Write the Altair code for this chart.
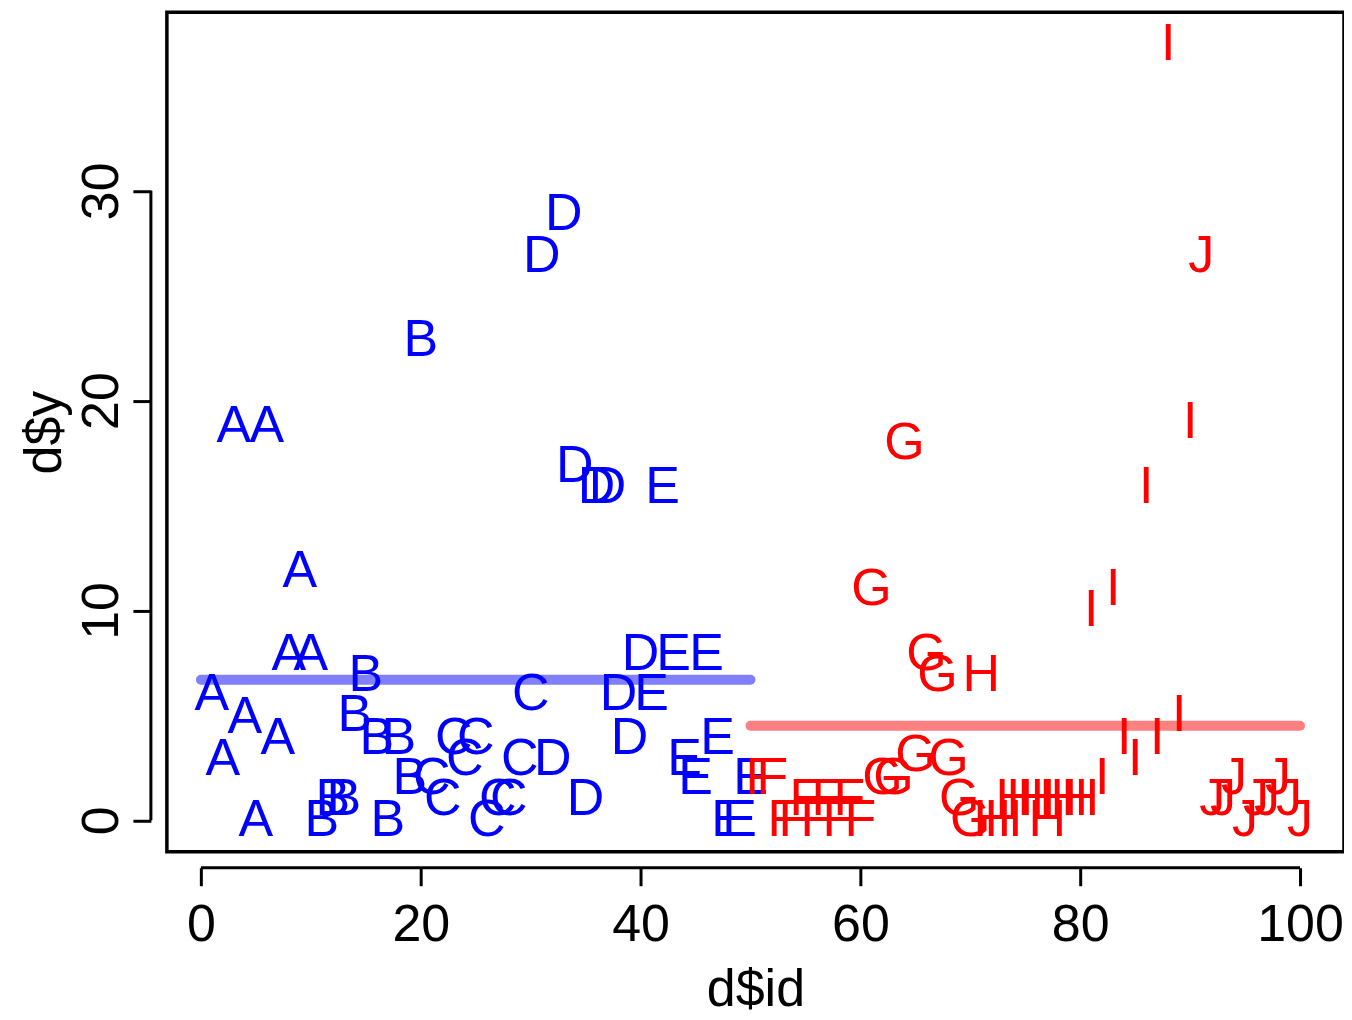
import altair as alt
import pandas as pd

groups = list("ABCDEFGHIJ")
ids = list(range(1, 101))
yA = [6, 2.9, 18.8, 4.9, 0, 18.8, 3.9, 7.9, 11.9, 7.9]
yB = [0, 1, 1, 5, 6.9, 3.9, 0, 3.9, 2, 22.9]
yC = [2, 1, 3.9, 2.9, 3.9, 0, 1, 1, 2.9, 6]
yD = [26.9, 2.9, 28.9, 16.9, 1, 15.9, 15.9, 6, 3.9, 7.9]
yE = [6, 15.9, 7.9, 2.9, 2, 7.9, 3.9, 0, 0, 2]
yF = [2, 2, 0, 0, 1, 0, 1, 0, 1, 0]
yG = [11, 2, 2, 18, 3.1, 7.9, 6.9, 2.9, 1, 0]
yH = [6.9, 0, 0, 1, 1, 1, 0, 1, 1, 1]
yI = [10, 2, 11, 3.9, 2.9, 15.9, 3.9, 37, 5, 19]
yJ = [26.9, 1, 1, 2, 0, 1, 1, 2, 1, 0]
yvals = yA + yB + yC + yD + yE + yF + yG + yH + yI + yJ
half_means = [6.7, 4.5]
half_x0 = [0, 50]
half_x1 = [50, 100]
half_names = ["low", "high"]

df = pd.DataFrame({
    "id": ids,
    "y": yvals,
    "g": [g for g in groups for _ in range(10)],
    "half": ["low"] * 50 + ["high"] * 50,
})
lines = pd.DataFrame({"x0": half_x0, "x1": half_x1, "m": half_means, "half": half_names})

W, H = 1178, 840
xs = alt.Scale(domain=[-3.1, 104], nice=False, zero=False)
ys = alt.Scale(domain=[-1.5, 38.5], nice=False, zero=False)
font = "Liberation Sans"

xaxis = alt.Axis(values=[0, 20, 40, 60, 80, 100], domain=False, grid=False, offset=16,
                 tickSize=18, tickWidth=3, tickColor="black", labelFontSize=52,
                 labelColor="black", labelFont=font, labelPadding=14,
                 title="d$id", titleFont=font, titleFontSize=52, titleFontWeight="normal",
                 titlePadding=14)
yaxis = alt.Axis(values=[0, 10, 20, 30], domain=False, grid=False, offset=16,
                 tickSize=18, tickWidth=3, tickColor="black", labelFontSize=52,
                 labelColor="black", labelFont=font, labelAngle=-90, labelAlign="center",
                 labelBaseline="bottom", labelPadding=4,
                 title="d$y", titleFont=font, titleFontSize=52, titleFontWeight="normal",
                 titlePadding=4)

cscale = alt.Scale(domain=["low", "high"], range=["#0000FF", "#FF0000"])
lscale = alt.Scale(domain=["low", "high"], range=["#8080FF", "#FF8080"])

txt = alt.Chart(df).mark_text(fontSize=52, font=font, baseline="middle", align="center").encode(
    x=alt.X("id:Q", scale=xs, axis=xaxis),
    y=alt.Y("y:Q", scale=ys, axis=yaxis),
    text="g:N",
    color=alt.Color("half:N", scale=cscale, legend=None),
)
seg = alt.Chart(lines).mark_rule(strokeWidth=10, strokeCap="round").encode(
    x=alt.X("x0:Q", scale=xs), x2="x1:Q",
    y=alt.Y("m:Q", scale=ys),
    color=alt.Color("half:N", scale=lscale, legend=None),
)
axx = alt.Chart(pd.DataFrame({"a": [0], "b": [100]})).mark_rule(strokeWidth=3, color="black").encode(
    x=alt.X("a:Q", scale=xs), x2="b:Q", y=alt.value(H + 16))
axy = alt.Chart(pd.DataFrame({"a": [0], "b": [30]})).mark_rule(strokeWidth=3, color="black").encode(
    y=alt.Y("a:Q", scale=ys), y2="b:Q", x=alt.value(-16))
frame = alt.Chart(pd.DataFrame({"a": [0]})).mark_rect(fill=None, stroke="black", strokeWidth=3.5).encode(
    x=alt.value(0), x2=alt.value(W), y=alt.value(0), y2=alt.value(H))

chart = alt.layer(seg, txt, axx, axy, frame).resolve_scale(color="independent").properties(
    width=W, height=H, autosize="none",
    padding={"left": 159, "top": 4, "right": 0, "bottom": 160},
).configure_view(stroke=None).configure(background="white")

chart.save("out.html", embed_options={"renderer": "svg", "actions": False})
